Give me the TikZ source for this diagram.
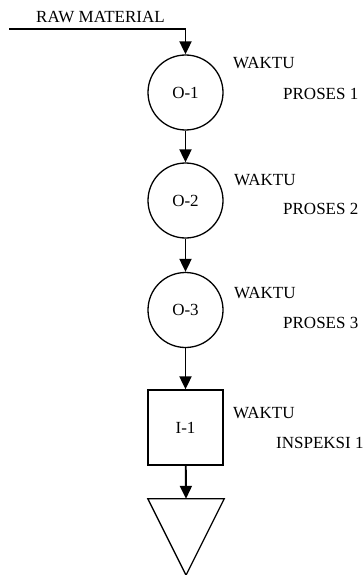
\documentclass[tikz,border=0pt]{standalone}
\usepackage{fontspec}
\setmainfont{Liberation Serif}
\usetikzlibrary{arrows.meta}
\begin{document}
\begin{tikzpicture}[x=1pt,y=-1pt,
  every node/.style={font=\fontsize{17}{19}\selectfont},
  opnode/.style={draw,circle,line width=1.3pt,minimum size=75pt,inner sep=0pt},
  inspnode/.style={draw,rectangle,line width=1.3pt,minimum width=75pt,minimum height=75pt,inner sep=0pt},
  storenode/.style={rectangle,minimum width=76pt,minimum height=76pt,inner sep=0pt},
  notetext/.style={anchor=west,inner sep=0pt},
  flow/.style={line width=1.9pt,-{Triangle[length=13pt,width=12pt]}}]
\useasboundingbox (0,0) rectangle (363,575);

% process chart nodes
\node[opnode] (o1) at (185.5,92.5) {O-1};
\node[opnode] (o2) at (185.5,200.5) {O-2};
\node[opnode] (o3) at (185.5,310) {O-3};
\node[inspnode] (i1) at (185.5,427.5) {I-1};
\node[storenode] (s1) at (186,537) {};
% storage symbol: downward triangle inside the store node
\draw[line width=1.3pt,line join=miter] (s1.north west) -- (s1.north east) -- (s1.south) -- cycle;

% incoming material line
\coordinate (rawstart) at (9,29);
\coordinate (rawcorner) at (185.5,29);
\node[notetext] (raw) at (36,17) {RAW MATERIAL};
\draw[line width=1.9pt] (rawstart) -- (rawcorner);
\draw[flow] (rawcorner) -- (o1.north);

% flow between steps
\draw[flow] (o1) -- (o2);
\draw[flow] (o2) -- (o3);
\draw[flow] (o3) -- (i1);
\draw[flow] (i1) -- (s1.north);

% time annotations
\node[notetext] (w1) at (233,63) {WAKTU};
\node[notetext] (p1) at (283,94) {PROSES 1};
\node[notetext] (w2) at (234,180) {WAKTU};
\node[notetext] (p2) at (283,209) {PROSES 2};
\node[notetext] (w3) at (234,293) {WAKTU};
\node[notetext] (p3) at (283,323) {PROSES 3};
\node[notetext] (w4) at (233,413) {WAKTU};
\node[notetext] (p4) at (276,443) {INSPEKSI 1};
\end{tikzpicture}
\end{document}
